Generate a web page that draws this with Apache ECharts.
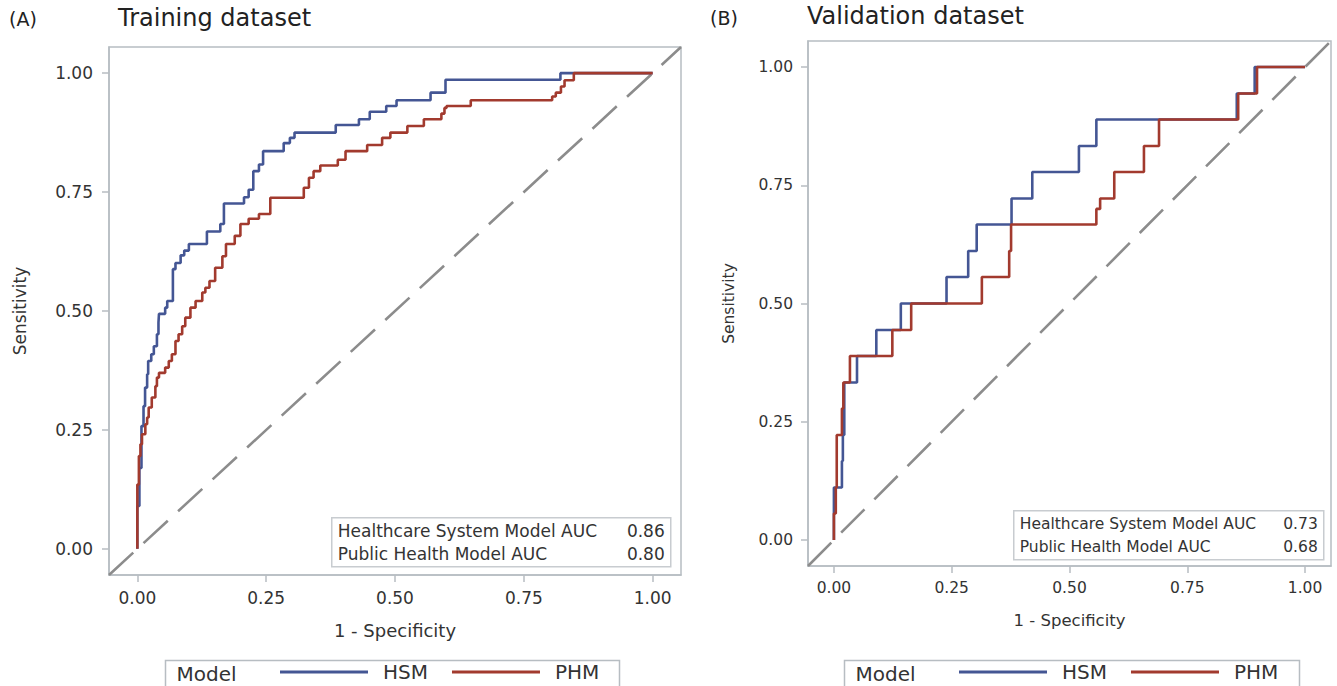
<!DOCTYPE html>
<html>
<head>
<meta charset="utf-8">
<script src="https://cdn.jsdelivr.net/npm/echarts@6/dist/echarts.min.js"></script>
<style>
  html, body { margin: 0; padding: 0; background: #fff; }
  #chart { width: 1337px; height: 686px; }
</style>
</head>
<body>
<div id="chart"></div>
<script>
// axis range and tick values (same for both panels)
const AXIS_MIN = -0.055
const AXIS_MAX = 1.055
const tickValues = [0, 0.25, 0.5, 0.75, 1]

// ROC points [1 - specificity, sensitivity]
const trainHSM = [
  [0, 0], [0, 0.09], [0.004, 0.17], [0.008, 0.258], [0.012, 0.30], [0.015, 0.339],
  [0.019, 0.367], [0.021, 0.395], [0.027, 0.409], [0.032, 0.426], [0.038, 0.451],
  [0.041, 0.476], [0.042, 0.494], [0.054, 0.507], [0.058, 0.521], [0.069, 0.588],
  [0.074, 0.601], [0.084, 0.617], [0.091, 0.627], [0.100, 0.641], [0.135, 0.667],
  [0.161, 0.683], [0.168, 0.726], [0.207, 0.739], [0.216, 0.755], [0.225, 0.794],
  [0.236, 0.808], [0.244, 0.836], [0.284, 0.853], [0.296, 0.864], [0.305, 0.875],
  [0.385, 0.891], [0.430, 0.903], [0.451, 0.919], [0.483, 0.931], [0.503, 0.943],
  [0.569, 0.959], [0.598, 0.986], [0.821, 1.0], [1.0, 1.0]
]
const trainPHM = [
  [0, 0], [0, 0.135], [0.003, 0.195], [0.006, 0.22], [0.009, 0.241], [0.0155, 0.262],
  [0.019, 0.276], [0.022, 0.297], [0.028, 0.318], [0.035, 0.342], [0.038, 0.36],
  [0.042, 0.37], [0.054, 0.381], [0.061, 0.395], [0.067, 0.409], [0.074, 0.437],
  [0.08, 0.451], [0.087, 0.468], [0.093, 0.486], [0.103, 0.507], [0.113, 0.521],
  [0.126, 0.539], [0.132, 0.549], [0.140, 0.563], [0.151, 0.591], [0.165, 0.615],
  [0.172, 0.641], [0.189, 0.658], [0.200, 0.683], [0.216, 0.694], [0.236, 0.704],
  [0.258, 0.738], [0.323, 0.759], [0.333, 0.780], [0.342, 0.794], [0.355, 0.806],
  [0.389, 0.818], [0.404, 0.836], [0.446, 0.849], [0.475, 0.864], [0.491, 0.875],
  [0.524, 0.889], [0.556, 0.903], [0.590, 0.915], [0.596, 0.927], [0.600, 0.931],
  [0.647, 0.943], [0.805, 0.951], [0.812, 0.959], [0.822, 0.972], [0.829, 0.985],
  [0.847, 1.0], [1.0, 1.0]
]
const validHSM = [
  [0, 0], [0, 0.111], [0.017, 0.167], [0.019, 0.222], [0.022, 0.333], [0.049, 0.389],
  [0.090, 0.444], [0.142, 0.5], [0.239, 0.556], [0.285, 0.611], [0.303, 0.667],
  [0.377, 0.722], [0.421, 0.778], [0.520, 0.833], [0.557, 0.889], [0.855, 0.944],
  [0.893, 1.0], [1.0, 1.0]
]
const validPHM = [
  [0, 0], [0, 0.056], [0.004, 0.111], [0.006, 0.222], [0.017, 0.278], [0.020, 0.333],
  [0.034, 0.389], [0.124, 0.444], [0.164, 0.5], [0.314, 0.556], [0.372, 0.611],
  [0.376, 0.667], [0.557, 0.700], [0.565, 0.722], [0.595, 0.778], [0.658, 0.833],
  [0.690, 0.889], [0.858, 0.944], [0.898, 1.0], [1.0, 1.0]
]

const aucLabels = ['Healthcare System Model AUC', 'Public Health Model AUC']
const trainAUC = ['0.86', '0.80']
const validAUC = ['0.73', '0.68']

const HSM_COLOR = '#445694'
const PHM_COLOR = '#a23a2e'
const FRAME = '#b7bdc2'
const TXT = '#333'
const FONT = 'DejaVu Sans'

const chart = echarts.init(document.getElementById('chart'), null, { renderer: 'svg' })

const makeX = (grid, fs, margin, nameGap) => ({
  type: 'value', gridIndex: grid, min: AXIS_MIN, max: AXIS_MAX,
  name: '1 - Specificity', nameLocation: 'middle', nameGap: nameGap,
  nameTextStyle: { fontFamily: FONT, fontSize: fs + 1, color: TXT },
  axisLine: { show: true, onZero: false, lineStyle: { color: FRAME, width: 1.5 } },
  axisTick: { show: true, customValues: tickValues, length: 7, lineStyle: { color: FRAME, width: 1.5 } },
  axisLabel: {
    customValues: tickValues, margin: margin, fontFamily: FONT, fontSize: fs, color: TXT,
    formatter: v => v.toFixed(2)
  },
  splitLine: { show: false }
})
const makeY = (grid, fs, margin, nameGap) => ({
  type: 'value', gridIndex: grid, min: AXIS_MIN, max: AXIS_MAX,
  name: 'Sensitivity', nameLocation: 'middle', nameGap: nameGap,
  nameTextStyle: { fontFamily: FONT, fontSize: fs, color: TXT },
  axisLine: { show: true, onZero: false, lineStyle: { color: FRAME, width: 1.5 } },
  axisTick: { show: true, customValues: tickValues, length: 7, lineStyle: { color: FRAME, width: 1.5 } },
  axisLabel: {
    customValues: tickValues, margin: margin, fontFamily: FONT, fontSize: fs, color: TXT,
    formatter: v => v.toFixed(2)
  },
  splitLine: { show: false }
})

const rocSeries = (name, data, color, idx) => ({
  name: name, type: 'line', xAxisIndex: idx, yAxisIndex: idx,
  data: data, step: 'end', symbol: 'none', silent: true,
  itemStyle: { color: color },
  lineStyle: { color: color, width: 2.6 },
  z: 3
})
const refSeries = (idx) => ({
  name: 'ref', type: 'line', xAxisIndex: idx, yAxisIndex: idx,
  data: [[AXIS_MIN, AXIS_MIN], [AXIS_MAX, AXIS_MAX]],
  symbol: 'none', silent: true,
  lineStyle: { color: '#8c8c8c', width: 2.6, type: [33, 14] },
  z: 2
})

const aucBox = (x, y, w, h, fs, values) => ({
  type: 'group', left: x, top: y,
  children: [
    { type: 'rect', shape: { x: 0, y: 0, width: w, height: h },
      style: { fill: '#fff', stroke: '#c8ccd0', lineWidth: 1.5 } },
    { type: 'text', x: 6, y: h * 0.27, style: { text: aucLabels[0], font: fs + 'px ' + FONT, fill: TXT, verticalAlign: 'middle' } },
    { type: 'text', x: 6, y: h * 0.74, style: { text: aucLabels[1], font: fs + 'px ' + FONT, fill: TXT, verticalAlign: 'middle' } },
    { type: 'text', x: w - 6, y: h * 0.27, style: { text: values[0], font: fs + 'px ' + FONT, fill: TXT, align: 'right', verticalAlign: 'middle' } },
    { type: 'text', x: w - 6, y: h * 0.74, style: { text: values[1], font: fs + 'px ' + FONT, fill: TXT, align: 'right', verticalAlign: 'middle' } }
  ]
})

const legendBox = (x, w) => ({
  type: 'group', left: x, top: 658,
  children: [
    { type: 'rect', shape: { x: 0, y: 0, width: w, height: 40 },
      style: { fill: 'none', stroke: FRAME, lineWidth: 1.5 } },
    { type: 'text', x: 11, y: 13, style: { text: 'Model', font: '20px ' + FONT, fill: TXT, verticalAlign: 'middle' } }
  ]
})

const legendCfg = (left) => ({
  data: ['HSM', 'PHM'], left: left, top: 662, orient: 'horizontal',
  icon: 'rect', itemWidth: 88, itemHeight: 3, itemGap: 24, selectedMode: false,
  padding: 0,
  textStyle: { fontFamily: FONT, fontSize: 20, color: TXT, padding: [0, 0, 0, 10] }
})

const option = {
  animation: false,
  title: [
    { text: '(A)', left: 9, top: 9, padding: 0, textStyle: { fontFamily: FONT, fontSize: 19, fontWeight: 'normal', color: '#222' } },
    { text: 'Training dataset', left: 118, top: 6, padding: 0, textStyle: { fontFamily: FONT, fontSize: 24, fontWeight: 'normal', color: '#222' } },
    { text: '(B)', left: 710, top: 8, padding: 0, textStyle: { fontFamily: FONT, fontSize: 19, fontWeight: 'normal', color: '#222' } },
    { text: 'Validation dataset', left: 807, top: 4, padding: 0, textStyle: { fontFamily: FONT, fontSize: 24, fontWeight: 'normal', color: '#222' } }
  ],
  grid: [
    { left: 109, top: 47, width: 572, height: 528, show: true, borderColor: FRAME, borderWidth: 1.5, backgroundColor: '#fff' },
    { left: 808, top: 41, width: 523, height: 525, show: true, borderColor: FRAME, borderWidth: 1.5, backgroundColor: '#fff' }
  ],
  xAxis: [makeX(0, 17, 14, 46), makeX(1, 15.5, 14, 46)],
  yAxis: [makeY(0, 17, 16, 81), makeY(1, 15.5, 15, 71)],
  legend: [legendCfg(280), legendCfg(959)],
  series: [
    refSeries(0),
    rocSeries('HSM', trainHSM, HSM_COLOR, 0),
    rocSeries('PHM', trainPHM, PHM_COLOR, 0),
    refSeries(1),
    rocSeries('HSM', validHSM, HSM_COLOR, 1),
    rocSeries('PHM', validPHM, PHM_COLOR, 1)
  ],
  graphic: [
    aucBox(331, 517, 339, 49, 17, trainAUC),
    aucBox(1013, 510, 310, 49, 15.5, validAUC),
    legendBox(163, 454),
    legendBox(842, 455)
  ]
}

chart.setOption(option)
</script>
</body>
</html>
